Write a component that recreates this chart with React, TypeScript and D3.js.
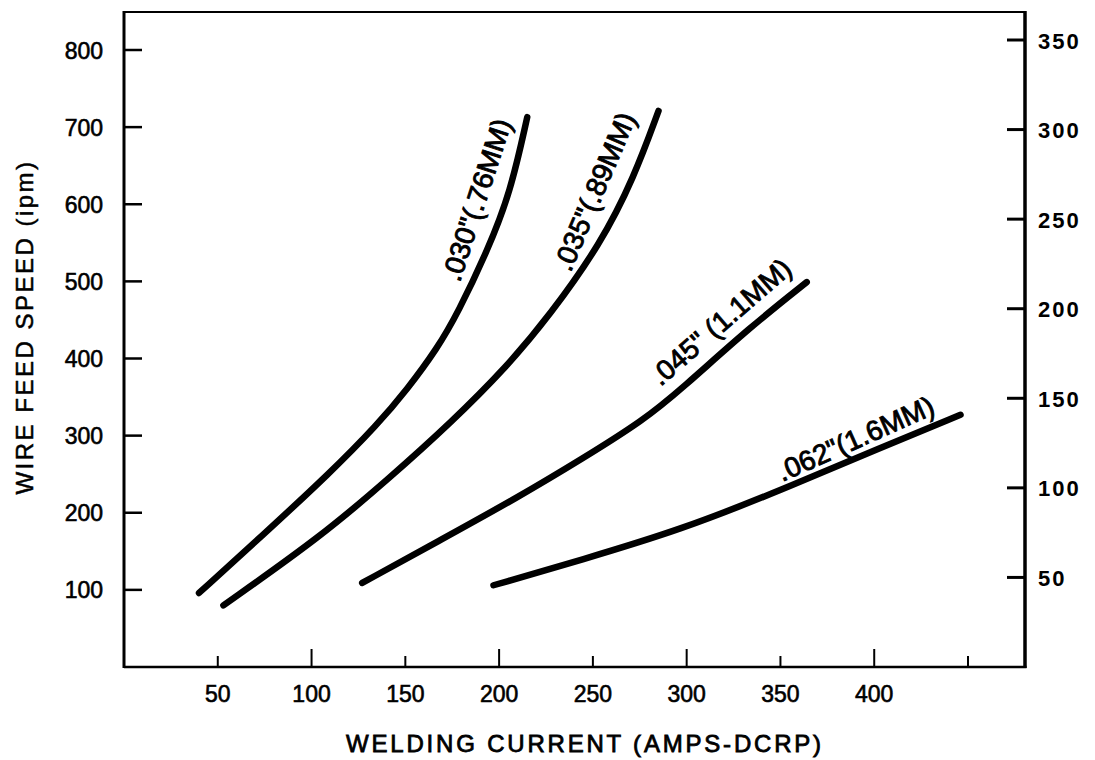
import React from "react";
import * as d3 from "d3";

// ---- data ----
const wire030Amps = [40, 74, 110, 135, 151, 167, 178, 194, 206, 215];
const wire030Ipm = [96, 171, 252, 314, 360, 413, 459, 541, 615, 713];

const wire035Amps = [53, 105, 142, 174, 204, 227, 254, 272, 285];
const wire035Ipm = [80, 169, 246, 316, 389, 456, 548, 635, 721];

const wire045Amps = [127, 169, 210, 245, 277, 297, 334, 364];
const wire045Ipm = [109, 165, 220, 271, 320, 360, 441, 499];

const wire062Amps = [197, 244, 297, 350, 404, 446];
const wire062Ipm = [106, 139, 178, 229, 285, 327];

const seriesNames = ['.030"(.76MM)', '.035"(.89MM)', '.045" (1.1MM)', '.062"(1.6MM)'];

const xTickValues = [50, 100, 150, 200, 250, 300, 350, 400, 450];
const xTickLabels = ["50", "100", "150", "200", "250", "300", "350", "400", ""];
const leftTickValues = [100, 200, 300, 400, 500, 600, 700, 800];
const rightTickValues = [50, 100, 150, 200, 250, 300, 350];

const xTitle = "WELDING CURRENT (AMPS-DCRP)";
const yTitle = "WIRE FEED SPEED (ipm)";

// label placement (annotation layout, in data units + rotation)
const labelAmps = [179, 238, 286, 351];
const labelIpm = [498, 511, 363, 240];
const labelAngles = [-72, -67, -41, -24];

const W = 1095;
const H = 760;
const left = 124;
const right = 1025;
const top = 12;
const bottom = 667;

const FONT = "'Liberation Sans', Arial, Helvetica, sans-serif";

export default function App() {
  const x = d3.scaleLinear().domain([0, 450]).range([left, 968]);
  const y = d3.scaleLinear().domain([0, 800]).range([bottom, 50]);
  const yR = d3.scaleLinear().domain([0, 350]).range([bottom, 40]);

  const series = [
    { a: wire030Amps, v: wire030Ipm },
    { a: wire035Amps, v: wire035Ipm },
    { a: wire045Amps, v: wire045Ipm },
    { a: wire062Amps, v: wire062Ipm },
  ];

  const line = d3
    .line<[number, number]>()
    .x((d) => x(d[0]))
    .y((d) => y(d[1]))
    .curve(d3.curveBasis);

  return (
    <svg
      width={W}
      height={H}
      style={{ position: "absolute", left: 0, top: 0, background: "#fff" }}
      fontFamily={FONT}
    >
      <rect x={0} y={0} width={W} height={H} fill="#fff" />
      {/* frame */}
      <line x1={left} x2={right} y1={top} y2={top} stroke="#000" strokeWidth={2} />
      <line x1={left} x2={left} y1={top - 1} y2={bottom + 1} stroke="#000" strokeWidth={3} />
      <line x1={left} x2={right + 1.5} y1={bottom} y2={bottom} stroke="#000" strokeWidth={2.5} />
      <line x1={right} x2={right} y1={top - 1} y2={bottom + 1} stroke="#000" strokeWidth={3.5} />

      {/* left ticks */}
      {leftTickValues.map((t) => (
        <g key={"l" + t}>
          <line x1={left} x2={left + 18} y1={y(t)} y2={y(t)} stroke="#000" strokeWidth={2.5} />
          <text x={103} y={y(t) + 8.5} textAnchor="end" fontSize={23} stroke="#000" strokeWidth={0.6}>
            {t}
          </text>
        </g>
      ))}

      {/* right ticks */}
      {rightTickValues.map((t) => (
        <g key={"r" + t}>
          <line x1={right - 18} x2={right} y1={yR(t)} y2={yR(t)} stroke="#000" strokeWidth={3} />
          <text x={1038} y={yR(t) + 8.5} textAnchor="start" fontSize={22} fontWeight="bold" letterSpacing={2}>
            {t}
          </text>
        </g>
      ))}

      {/* bottom ticks */}
      {xTickValues.map((t, i) => (
        <g key={"b" + t}>
          <line
            x1={x(t)}
            x2={x(t)}
            y1={bottom}
            y2={bottom - (t % 100 === 0 ? 18 : 11)}
            stroke="#000"
            strokeWidth={2}
          />
          <text x={x(t)} y={702} textAnchor="middle" fontSize={23} stroke="#000" strokeWidth={0.6}>
            {xTickLabels[i]}
          </text>
        </g>
      ))}

      {/* curves */}
      {series.map((s, i) => (
        <path
          key={"c" + i}
          d={line(s.a.map((a, j) => [a, s.v[j]] as [number, number])) || ""}
          fill="none"
          stroke="#000"
          strokeWidth={6.5}
          strokeLinecap="round"
        />
      ))}

      {/* curve labels */}
      {seriesNames.map((name, i) => {
        const px = x(labelAmps[i]);
        const py = y(labelIpm[i]);
        return (
          <text
            key={"t" + i}
            transform={`translate(${px},${py}) rotate(${labelAngles[i]})`}
            fontSize={28}
            stroke="#000"
            strokeWidth={0.9}
          >
            {name}
          </text>
        );
      })}

      {/* axis titles */}
      <text x={585} y={752} textAnchor="middle" fontSize={24} letterSpacing={2.8} stroke="#000" strokeWidth={0.8}>
        {xTitle}
      </text>
      <text
        transform={`translate(33,327) rotate(-90)`}
        textAnchor="middle"
        fontSize={24}
        letterSpacing={2.5}
        stroke="#000"
        strokeWidth={0.5}
      >
        {yTitle}
      </text>
    </svg>
  );
}
